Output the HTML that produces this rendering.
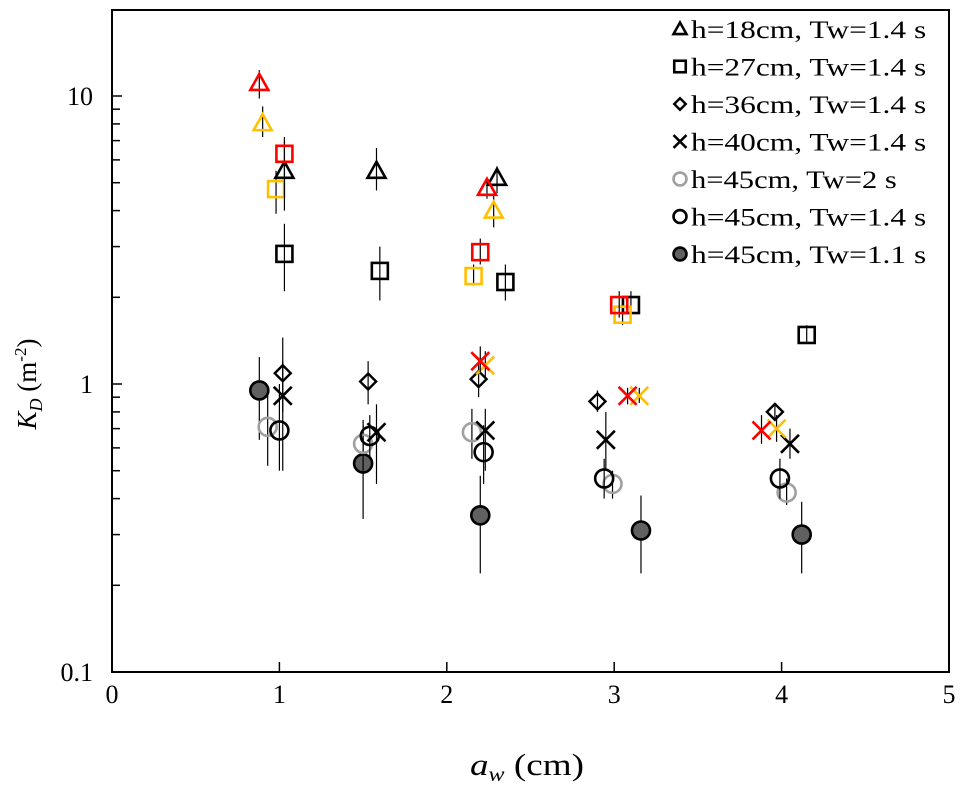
<!DOCTYPE html>
<html><head><meta charset="utf-8"><style>
body{margin:0;background:#fff}
svg{display:block;font-family:"Liberation Serif",serif}
</style></head><body>
<svg id="chart" width="961" height="787" viewBox="0 0 961 787" xmlns="http://www.w3.org/2000/svg">
<rect x="112" y="10" width="837" height="662" fill="none" stroke="#000" stroke-width="2"/>
<g id="ticks"></g><g id="marks"></g>
<g id="legend"></g>
<text transform="translate(36,384) rotate(-90)" text-anchor="middle" font-size="27"><tspan font-style="italic">K</tspan><tspan font-style="italic" font-size="18" dy="6">D</tspan><tspan dy="-6"> (m</tspan><tspan font-size="17" dy="-10">-2</tspan><tspan dy="10">)</tspan></text>
<text x="527" y="775" text-anchor="middle" font-size="31" textLength="114" lengthAdjust="spacingAndGlyphs"><tspan font-style="italic">a</tspan><tspan font-style="italic" font-size="20" dy="6">w</tspan><tspan dy="-6"> (cm)</tspan></text>
</svg>
<script>
const xTicks=[0,1,2,3,4,5];
const yTicks=[0.1,1,10];
const yTickLabels=["0.1","1","10"];
const legendLabels=["h=18cm, Tw=1.4 s","h=27cm, Tw=1.4 s","h=36cm, Tw=1.4 s","h=40cm, Tw=1.4 s","h=45cm, Tw=2 s","h=45cm, Tw=1.4 s","h=45cm, Tw=1.1 s"];
// series: x values, y values, error low, error high
const triBlackX=[1.03,1.58,2.30], triBlackY=[5.5,5.5,5.2], triBlackLo=[4.6,4.7,4.6], triBlackHi=[7.0,6.6,5.7];
const triRedX=[0.88,2.24], triRedY=[11.1,4.8], triRedLo=[9.8,4.4], triRedHi=[12.3,5.2];
const triOrX=[0.90,2.28], triOrY=[8.05,4.0], triOrLo=[7.2,3.5], triOrHi=[9.2,4.5];
const sqBlackX=[1.03,1.60,2.35,3.10,4.15], sqBlackY=[2.83,2.47,2.26,1.88,1.48], sqBlackLo=[2.1,1.95,1.95,1.7,1.4], sqBlackHi=[3.6,3.0,2.6,2.1,1.6];
const sqRedX=[1.03,2.20,3.03], sqRedY=[6.3,2.87,1.88], sqRedLo=[4.0,2.6,1.7], sqRedHi=[7.2,3.2,2.1];
const sqOrX=[0.98,2.16,3.05], sqOrY=[4.75,2.37,1.74], sqOrLo=[3.9,2.2,1.6], sqOrHi=[5.5,2.6,1.9];
const diaX=[1.02,1.53,2.19,2.90,3.96], diaY=[1.09,1.02,1.04,0.87,0.80], diaLo=[0.8,0.85,0.9,0.8,0.75], diaHi=[1.45,1.2,1.2,0.95,0.85];
const xBlackX=[1.02,1.58,2.23,2.95,4.05], xBlackY=[0.91,0.68,0.69,0.64,0.62], xBlackLo=[0.5,0.45,0.5,0.5,0.55], xBlackHi=[1.2,0.85,0.82,0.8,0.7];
const xRedX=[2.20,3.08,3.88], xRedY=[1.2,0.91,0.69], xRedLo=[1.1,0.85,0.62], xRedHi=[1.35,0.97,0.78];
const xOrX=[2.23,3.15,3.97], xOrY=[1.16,0.91,0.70], xOrLo=[1.05,0.86,0.63], xOrHi=[1.3,0.97,0.78];
const cGrayX=[0.93,1.50,2.15,2.99,4.03], cGrayY=[0.71,0.62,0.68,0.45,0.42], cGrayLo=[0.52,0.5,0.55,0.4,0.38], cGrayHi=[0.95,0.75,0.82,0.5,0.47];
const cOpenX=[1.00,1.54,2.22,2.94,3.99], cOpenY=[0.69,0.66,0.58,0.47,0.47], cOpenLo=[0.5,0.55,0.45,0.4,0.4], cOpenHi=[1.0,0.78,0.72,0.55,0.55];
const cFillX=[0.88,1.50,2.20,3.16,4.12], cFillY=[0.95,0.53,0.35,0.31,0.30], cFillLo=[0.64,0.34,0.22,0.22,0.22], cFillHi=[1.24,0.72,0.48,0.41,0.39];

const NS="http://www.w3.org/2000/svg";
const X0=112,X1=949,DEC=288;
const sx=v=>X0+(X1-X0)*v/5;
const sy=v=>384-DEC*Math.log10(v);
function mk(tag,attrs,parent){const e=document.createElementNS(NS,tag);for(const k in attrs)e.setAttribute(k,attrs[k]);parent.appendChild(e);return e;}
const ticks=document.getElementById('ticks'),marks=document.getElementById('marks'),legend=document.getElementById('legend');

xTicks.forEach(t=>{
  const l=mk('line',{x1:sx(t),x2:sx(t),y1:672,y2:662,stroke:'#000','stroke-width':1.5},ticks);
  
  
  const tx=mk('text',{x:sx(t),y:703,'text-anchor':'middle','font-size':26},ticks);
  tx.textContent=String(t);
  
  
});
yTicks.forEach((t,i)=>{
  const tx=mk('text',{x:93,y:sy(t)+9,'text-anchor':'end','font-size':26},ticks);
  tx.textContent=yTickLabels[i];
  
  
});
for(let d=0.1;d<=10;d*=10){for(let m=1;m<10;m++){const v=d*m;if(v>20)break;const y=sy(v);if(y<10||y>672)continue;
  const l=mk('line',{x1:112,x2:m==1?122:120,y1:y,y2:y,stroke:'#000','stroke-width':1.5},ticks);
  
  
}}

function marker(type,color,cx,cy,parent,s){
  s=s||1;let e;
  if(type=='tri'){e=mk('polygon',{points:`${cx},${cy-9*s} ${cx-9*s},${cy+7*s} ${cx+9*s},${cy+7*s}`,fill:'none',stroke:color,'stroke-width':2.6},parent);}
  else if(type=='sq'){e=mk('rect',{x:cx-8*s,y:cy-8*s,width:16*s,height:16*s,fill:'none',stroke:color,'stroke-width':2.6},parent);}
  else if(type=='dia'){e=mk('polygon',{points:`${cx},${cy-8*s} ${cx+8*s},${cy} ${cx},${cy+8*s} ${cx-8*s},${cy}`,fill:'none',stroke:color,'stroke-width':2.4},parent);}
  else if(type=='x'){e=mk('path',{d:`M${cx-9*s},${cy-9*s}L${cx+9*s},${cy+9*s}M${cx+9*s},${cy-9*s}L${cx-9*s},${cy+9*s}`,fill:'none',stroke:color,'stroke-width':2.6},parent);}
  else if(type=='circ'){e=mk('circle',{cx:cx,cy:cy,r:9*s,fill:'none',stroke:color,'stroke-width':2.6},parent);}
  else {e=mk('circle',{cx:cx,cy:cy,r:9*s,fill:'#606060',stroke:'#000','stroke-width':2.6},parent);}
  return e;
}
function series(name,type,color,xs,ys,lo,hi){
  const g=mk('g',{},marks);
  
  
  xs.forEach((x,i)=>{
    const eb=mk('line',{x1:sx(x),x2:sx(x),y1:sy(lo[i]),y2:sy(hi[i]),stroke:'#000','stroke-width':1.2},g);
    
    
    const m=marker(type,color,sx(x),sy(ys[i]),g);
    
    
  });
}
series('series-h45-tw11','fill','#000',cFillX,cFillY,cFillLo,cFillHi);
series('series-h45-tw2','circ','#a0a0a0',cGrayX,cGrayY,cGrayLo,cGrayHi);
series('series-h45-tw14','circ','#000',cOpenX,cOpenY,cOpenLo,cOpenHi);
series('series-h40-tw14','x','#000',xBlackX,xBlackY,xBlackLo,xBlackHi);
series('series-h36-tw14','dia','#000',diaX,diaY,diaLo,diaHi);
series('series-h27-tw14','sq','#000',sqBlackX,sqBlackY,sqBlackLo,sqBlackHi);
series('series-h18-tw14','tri','#000',triBlackX,triBlackY,triBlackLo,triBlackHi);
series('series-x-orange','x','#ffc000',xOrX,xOrY,xOrLo,xOrHi);
series('series-x-red','x','#ff0000',xRedX,xRedY,xRedLo,xRedHi);
series('series-square-orange','sq','#ffc000',sqOrX,sqOrY,sqOrLo,sqOrHi);
series('series-square-red','sq','#ff0000',sqRedX,sqRedY,sqRedLo,sqRedHi);
series('series-triangle-orange','tri','#ffc000',triOrX,triOrY,triOrLo,triOrHi);
series('series-triangle-red','tri','#ff0000',triRedX,triRedY,triRedLo,triRedHi);

const legTypes=['tri','sq','dia','x','circ','circ','fill'];
const legColors=['#000','#000','#000','#000','#a0a0a0','#000','#000'];
legendLabels.forEach((lab,i)=>{
  const y=29+37.5*i;
  const m=marker(legTypes[i],legColors[i],680,y,legend,0.72);
  
  
  const t=mk('text',{x:691,y:y+9,'font-size':25},legend);
  t.textContent=lab;
  t.setAttribute('textLength',lab.length*14.7);
  t.setAttribute('lengthAdjust','spacingAndGlyphs');
  
  
});
</script>
</body></html>
